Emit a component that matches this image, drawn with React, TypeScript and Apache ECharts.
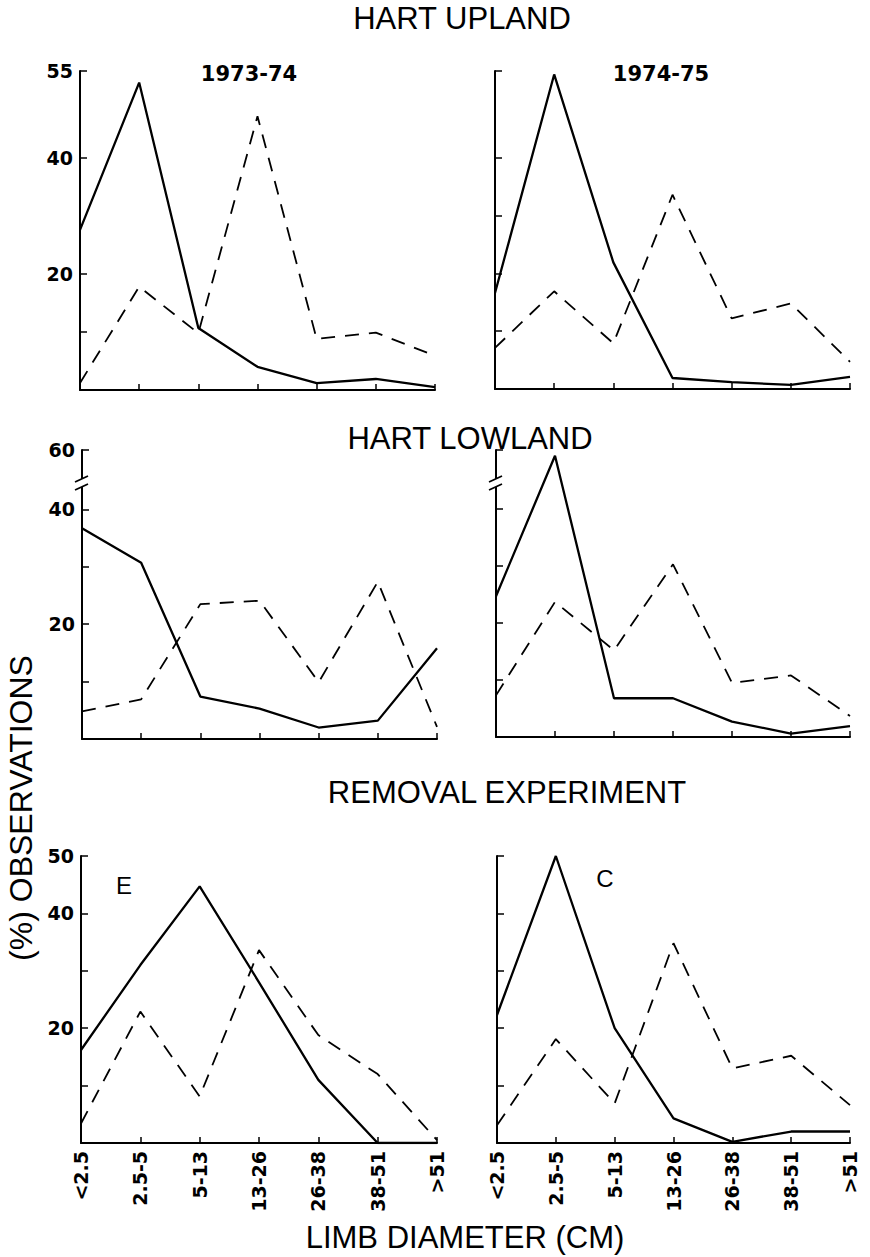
import React, { useEffect, useRef } from "react";
import * as echarts from "echarts";

const categories = ["<2.5", "2.5-5", "5-13", "13-26", "26-38", "38-51", ">51"];

// HART UPLAND
const upland7374Solid = [27.6, 53, 10.7, 4.0, 1.2, 1.9, 0.5];
const upland7374Dashed = [1.2, 17.8, 9.8, 47.2, 8.8, 9.9, 5.9];
const upland7475Solid = [16.6, 54.4, 21.9, 1.9, 1.2, 0.7, 2.1];
const upland7475Dashed = [7.1, 16.9, 7.9, 33.6, 12.2, 14.8, 4.7];

// HART LOWLAND
const lowland7374Solid = [36.7, 30.7, 7.4, 5.3, 2.0, 3.2, 15.8];
const lowland7374Dashed = [4.8, 6.9, 23.5, 24.1, 9.9, 27.4, 2.1];
const lowland7475Solid = [24.7, 59, 6.8, 6.8, 2.7, 0.6, 1.9];
const lowland7475Dashed = [7.3, 23.7, 15.2, 30.3, 9.5, 10.8, 3.7];

// REMOVAL EXPERIMENT
const removalESolid = [16.2, 31, 44.7, 28, 11, 0, 0];
const removalEDashed = [3.4, 22.9, 8.1, 33.6, 18.8, 12.0, 0.5];
const removalCSolid = [22.3, 50, 20, 4.3, 0.2, 2.0, 2.0];
const removalCDashed = [3.1, 18.1, 6.9, 34.8, 13.0, 15.2, 6.6];

// axis ticks / labels
const uplandLeftTicks = [10, 20, 40, 55];
const uplandRightTicks = [10, 20, 30, 40, 55];
const uplandLabels = [20, 40, 55];
const lowlandTicks = [10, 20, 30, 40, 60];
const lowlandLabels = [20, 40, 60];
const removalTicks = [10, 20, 30, 40, 50];
const removalLabels = [20, 40, 50];

const FONT_NUM = "'DejaVu Sans', sans-serif";
const FONT_TITLE = "'Liberation Sans', 'Noto Sans', sans-serif";

export default function App() {
  const ref = useRef<HTMLDivElement>(null);

  useEffect(() => {
    document.body.style.margin = "0";
    if (!ref.current) return;
    const chart = echarts.init(ref.current, null, { renderer: "svg" });

    const grids = [
      { left: 80, top: 71, width: 355, height: 319 },
      { left: 495, top: 71, width: 355, height: 318 },
      { left: 82, top: 450, width: 355, height: 289 },
      { left: 496, top: 450, width: 354, height: 287 },
      { left: 81, top: 856, width: 356, height: 287 },
      { left: 497, top: 856, width: 353, height: 287 },
    ];

    const yConf = [
      { max: 55, ticks: uplandLeftTicks, labels: uplandLabels, showLabel: true, brk: false },
      { max: 55, ticks: uplandRightTicks, labels: uplandLabels, showLabel: false, brk: false },
      { max: 60, ticks: lowlandTicks, labels: lowlandLabels, showLabel: true, brk: true },
      { max: 60, ticks: lowlandTicks, labels: lowlandLabels, showLabel: false, brk: true },
      { max: 50, ticks: removalTicks, labels: removalLabels, showLabel: true, brk: false },
      { max: 50, ticks: removalTicks, labels: removalLabels, showLabel: false, brk: false },
    ];

    const xAxis = grids.map((_, i) => ({
      type: "category",
      gridIndex: i,
      data: categories,
      boundaryGap: false,
      axisLine: { show: true, lineStyle: { color: "#000", width: 2 } },
      axisTick: { show: true, inside: true, length: 6, interval: 0, lineStyle: { color: "#000", width: 1.5 } },
      axisLabel: {
        show: i >= 4,
        rotate: 90,
        interval: 0,
        margin: 8,
        color: "#000",
        fontSize: 19,
        fontWeight: "bold",
        fontFamily: FONT_NUM,
      },
      splitLine: { show: false },
    }));

    const yAxis = yConf.map((c, i) => {
      const a: any = {
        type: "value",
        gridIndex: i,
        min: 0,
        max: c.max,
        axisLine: { show: true, lineStyle: { color: "#000", width: 2 } },
        axisTick: {
          show: true,
          inside: true,
          length: 7,
          customValues: c.ticks,
          lineStyle: { color: "#000", width: 1.5 },
        },
        axisLabel: {
          show: c.showLabel,
          customValues: c.labels,
          margin: 7,
          color: "#000",
          fontSize: 19,
          fontWeight: "bold",
          fontFamily: FONT_NUM,
        },
        splitLine: { show: false },
      };
      if (c.brk) {
        a.breaks = [{ start: 45, end: 54.65, gap: 0 }];
        a.breakArea = { show: false };
      }
      return a;
    });

    const pairs = [
      [upland7374Solid, upland7374Dashed],
      [upland7475Solid, upland7475Dashed],
      [lowland7374Solid, lowland7374Dashed],
      [lowland7475Solid, lowland7475Dashed],
      [removalESolid, removalEDashed],
      [removalCSolid, removalCDashed],
    ];

    const series: any[] = [];
    pairs.forEach(([s, d], i) => {
      series.push({
        type: "line",
        xAxisIndex: i,
        yAxisIndex: i,
        data: s,
        symbol: "none",
        lineStyle: { color: "#000", width: 2.3, type: "solid" },
        z: 3,
      });
      series.push({
        type: "line",
        xAxisIndex: i,
        yAxisIndex: i,
        data: d,
        symbol: "none",
        lineStyle: { color: "#000", width: 1.8, type: [14, 10] },
        z: 3,
      });
    });

    const title = (text: string, x: number, y: number, size = 31, extra: any = {}) => ({
      type: "text",
      x,
      y,
      ...extra,
      style: {
        text,
        fill: "#000",
        fontSize: size,
        fontFamily: FONT_TITLE,
        align: "center",
        verticalAlign: "middle",
      },
    });

    const breakMark = (x: number, y: number) => [
      { type: "rect", shape: { x: x - 4, y: y - 4, width: 8, height: 8 }, style: { fill: "#fff" }, z: 100 },
      { type: "line", shape: { x1: x - 7, y1: y - 1, x2: x + 6, y2: y - 7 }, style: { stroke: "#000", lineWidth: 1.8 }, z: 101 },
      { type: "line", shape: { x1: x - 7, y1: y + 7, x2: x + 6, y2: y + 1 }, style: { stroke: "#000", lineWidth: 1.8 }, z: 101 },
    ];

    const graphic: any[] = [
      title("HART UPLAND", 462, 18),
      title("HART LOWLAND", 470, 438),
      title("REMOVAL EXPERIMENT", 507, 792),
      title("LIMB DIAMETER (CM)", 465, 1237),
      title("(%) OBSERVATIONS", 21, 808, 32, { rotation: Math.PI / 2 }),
      { type: "text", x: 249, y: 74, style: { text: "1973-74", fill: "#000", fontSize: 21, fontWeight: "bold", fontFamily: FONT_NUM, align: "center", verticalAlign: "middle" } },
      { type: "text", x: 661, y: 74, style: { text: "1974-75", fill: "#000", fontSize: 21, fontWeight: "bold", fontFamily: FONT_NUM, align: "center", verticalAlign: "middle" } },
      title("E", 124, 885, 24),
      title("C", 605, 878, 24),
      ...breakMark(82, 483),
      ...breakMark(496, 483),
    ];

    chart.setOption({
      animation: false,
      backgroundColor: "#fff",
      grid: grids.map((g) => ({ ...g, containLabel: false })),
      xAxis,
      yAxis,
      series,
      graphic,
    });

    return () => chart.dispose();
  }, []);

  return <div ref={ref} style={{ width: 870, height: 1257 }} />;
}
